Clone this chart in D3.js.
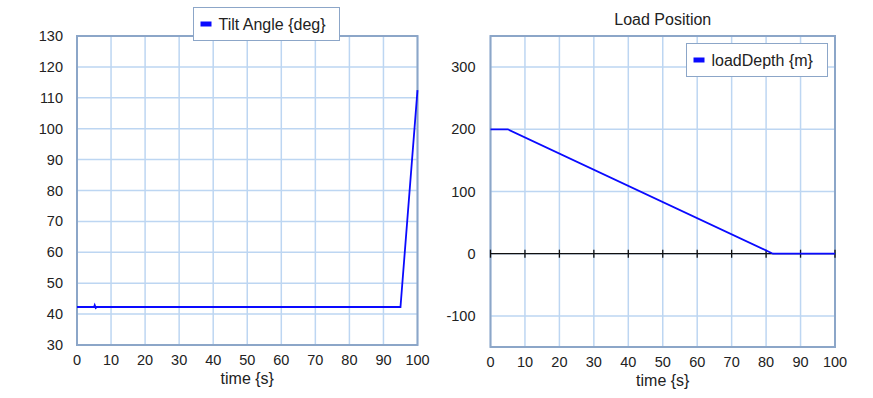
<!DOCTYPE html>
<html>
<head>
<meta charset="utf-8">
<script src="https://cdn.jsdelivr.net/npm/d3@7"></script>
<style>
    body { margin: 0; background: #fff; }
    text { font-family: "Liberation Sans", Arial, sans-serif; fill: #222; }
</style>
</head>
<body>
<svg id="chart" width="873" height="398"></svg>
<script>
// tilt angle series (left panel)
const tiltTime = [0, 5.0, 5.2, 5.5, 5.8, 95, 100];
const tiltAngle = [42.3, 42.3, 42.9, 42.0, 42.3, 42.3, 112.5];
const tiltTicksY = [30, 40, 50, 60, 70, 80, 90, 100, 110, 120, 130];

// load depth series (right panel)
const loadTime = [0, 5, 82, 100];
const loadDepth = [200, 200, 0, 0];
const loadTicksY = [-100, 0, 100, 200, 300];

const timeTicks = [0, 10, 20, 30, 40, 50, 60, 70, 80, 90, 100];

const svg = d3.select("#chart");
const gridColor = "#bdd6f2";
const frameColor = "#8ca6c8";
const lineColor = "#0a0aff";

function drawPanel(opts) {
    const { left, right, top, bottom, yDomain, yTicks, times, values, legend } = opts;
    const x = d3.scaleLinear().domain([0, 100]).range([left, right]);
    const y = d3.scaleLinear().domain(yDomain).range([bottom, top]);
    const g = svg.append("g");

    // grid
    g.selectAll(".vgrid").data(timeTicks).enter().append("line")
        .attr("x1", d => x(d)).attr("x2", d => x(d))
        .attr("y1", top).attr("y2", bottom)
        .attr("stroke", gridColor).attr("stroke-width", 1.5);
    g.selectAll(".hgrid").data(yTicks).enter().append("line")
        .attr("x1", left).attr("x2", right)
        .attr("y1", d => y(d)).attr("y2", d => y(d))
        .attr("stroke", gridColor).attr("stroke-width", 1.5);

    // frame
    g.append("rect")
        .attr("x", left).attr("y", top)
        .attr("width", right - left).attr("height", bottom - top)
        .attr("fill", "none").attr("stroke", frameColor).attr("stroke-width", 2);

    // zero axis with ticks
    if (opts.zeroAxis) {
        g.append("line")
            .attr("x1", left).attr("x2", right)
            .attr("y1", y(0)).attr("y2", y(0))
            .attr("stroke", "#111").attr("stroke-width", 1.3);
        g.selectAll(".ztick").data(timeTicks).enter().append("line")
            .attr("x1", d => x(d)).attr("x2", d => x(d))
            .attr("y1", y(0) - 4).attr("y2", y(0) + 4)
            .attr("stroke", "#111").attr("stroke-width", 1.3);
    }

    // y labels
    g.selectAll(".ylab").data(yTicks).enter().append("text")
        .attr("x", left - opts.yLabelGap).attr("y", d => y(d) + 5)
        .attr("text-anchor", "end").attr("font-size", 14.5)
        .text(d => d);

    // x labels
    g.selectAll(".xlab").data(timeTicks).enter().append("text")
        .attr("x", d => x(d)).attr("y", bottom + 20)
        .attr("text-anchor", "middle").attr("font-size", 14.5)
        .text(d => d);

    g.append("text")
        .attr("x", (left + right) / 2).attr("y", bottom + 39)
        .attr("text-anchor", "middle").attr("font-size", 16)
        .text("time {s}");

    // data line
    const pts = times.map((t, i) => [t, values[i]]);
    g.append("path")
        .datum(pts)
        .attr("d", d3.line().x(d => x(d[0])).y(d => y(d[1])))
        .attr("fill", "none").attr("stroke", lineColor).attr("stroke-width", 1.8);

    // legend
    const lg = g.append("g");
    lg.append("rect")
        .attr("x", legend.x).attr("y", legend.y)
        .attr("width", legend.w).attr("height", legend.h)
        .attr("fill", "#fff").attr("stroke", frameColor).attr("stroke-width", 1);
    lg.append("rect")
        .attr("x", legend.x + 7).attr("y", legend.y + legend.h / 2 - 2.5)
        .attr("width", 11).attr("height", 5)
        .attr("fill", lineColor);
    lg.append("text")
        .attr("x", legend.x + 25).attr("y", legend.y + legend.h / 2 + 6)
        .attr("font-size", 16)
        .text(legend.label);

    if (opts.title) {
        g.append("text")
            .attr("x", (left + right) / 2).attr("y", 25)
            .attr("text-anchor", "middle").attr("font-size", 16)
            .text(opts.title);
    }
}

drawPanel({
    left: 77, right: 417.5, top: 36, bottom: 345,
    yDomain: [30, 130], yTicks: tiltTicksY, yLabelGap: 14,
    times: tiltTime, values: tiltAngle,
    legend: { x: 193.5, y: 7.5, w: 146, h: 33, label: "Tilt Angle {deg}" }
});

drawPanel({
    left: 490.5, right: 835, top: 36, bottom: 347,
    yDomain: [-150, 350], yTicks: loadTicksY, yLabelGap: 15,
    times: loadTime, values: loadDepth, zeroAxis: true,
    title: "Load Position",
    legend: { x: 686.5, y: 43.5, w: 141, h: 33, label: "loadDepth {m}" }
});
</script>
</body>
</html>
